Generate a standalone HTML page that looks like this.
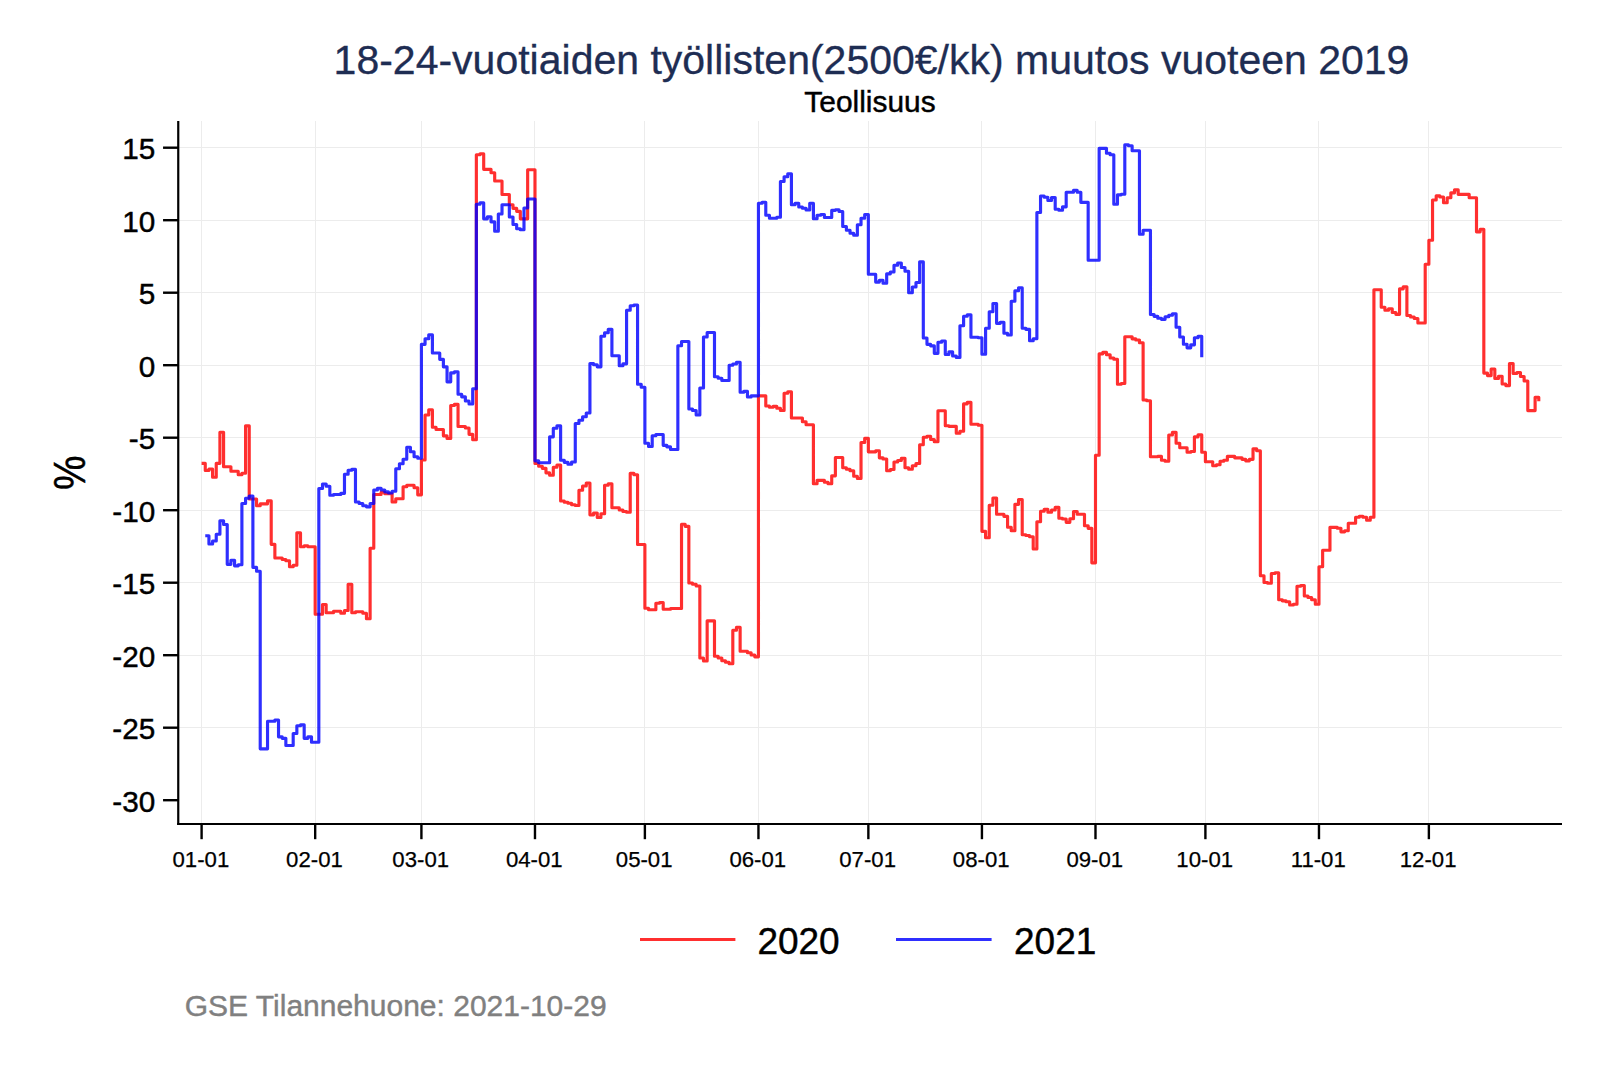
<!DOCTYPE html>
<html lang="fi"><head><meta charset="utf-8"><title>18-24-vuotiaiden työllisten muutos</title>
<style>html,body{margin:0;padding:0;background:#fff}body{width:1600px;height:1067px;overflow:hidden}</style></head>
<body>
<svg width="1600" height="1067" viewBox="0 0 1600 1067" style="display:block;font-family:'Liberation Sans',sans-serif">
<rect width="1600" height="1067" fill="#ffffff"/>
<g stroke="#ececec" stroke-width="1" fill="none"><line x1="201.5" y1="121.0" x2="201.5" y2="824.0"/><line x1="315.5" y1="121.0" x2="315.5" y2="824.0"/><line x1="421.5" y1="121.0" x2="421.5" y2="824.0"/><line x1="534.5" y1="121.0" x2="534.5" y2="824.0"/><line x1="644.5" y1="121.0" x2="644.5" y2="824.0"/><line x1="758.5" y1="121.0" x2="758.5" y2="824.0"/><line x1="868.5" y1="121.0" x2="868.5" y2="824.0"/><line x1="981.5" y1="121.0" x2="981.5" y2="824.0"/><line x1="1095.5" y1="121.0" x2="1095.5" y2="824.0"/><line x1="1205.5" y1="121.0" x2="1205.5" y2="824.0"/><line x1="1318.5" y1="121.0" x2="1318.5" y2="824.0"/><line x1="1428.5" y1="121.0" x2="1428.5" y2="824.0"/><line x1="178.2" y1="147.5" x2="1562.0" y2="147.5"/><line x1="178.2" y1="220.5" x2="1562.0" y2="220.5"/><line x1="178.2" y1="292.5" x2="1562.0" y2="292.5"/><line x1="178.2" y1="365.5" x2="1562.0" y2="365.5"/><line x1="178.2" y1="437.5" x2="1562.0" y2="437.5"/><line x1="178.2" y1="510.5" x2="1562.0" y2="510.5"/><line x1="178.2" y1="582.5" x2="1562.0" y2="582.5"/><line x1="178.2" y1="655.5" x2="1562.0" y2="655.5"/><line x1="178.2" y1="727.5" x2="1562.0" y2="727.5"/></g>
<path d="M201.60,463.30H205.26 V470.50H208.93 V469.00H212.59 V477.25H216.25 V463.30H219.92 V432.25H223.58 V466.75H230.91 V471.25H238.23 V474.70H241.90 V473.20H245.56 V425.80H249.23 V499.00H256.55 V505.75H260.22 V503.80H267.54 V500.80H271.21 V544.30H274.87 V558.00H282.20 V559.50H285.86 V560.70H289.52 V566.70H293.19 V565.20H296.85 V532.75H300.51 V546.75H304.18 V545.70H307.84 V546.75H315.17 V614.25H322.50 V604.50H326.16 V612.75H333.49 V611.25H340.81 V613.20H344.48 V610.50H348.14 V584.25H351.80 V612.75H355.47 V611.70H362.79 V613.20H366.46 V618.75H370.12 V548.25H373.78 V494.50H381.11 V492.25H384.77 V493.75H392.10 V502.00H395.77 V498.70H403.09 V486.70H406.76 V485.20H414.08 V487.75H417.75 V494.80H421.41 V460.00H425.07 V415.00H428.74 V409.70H432.40 V427.25H436.06 V429.50H443.39 V435.80H447.05 V438.50H450.72 V405.50H454.38 V404.30H458.04 V426.50H465.37 V428.00H469.04 V434.30H472.70 V439.70H476.36 V154.75H480.03 V153.70H483.69 V169.30H491.02 V172.75H494.68 V181.00H502.01 V194.50H509.33 V204.70H513.00 V208.30H516.66 V211.30H520.32 V218.80H527.65 V169.75H534.98 V463.50H538.64 V466.20H542.31 V468.30H545.97 V472.80H549.63 V475.20H553.30 V467.25H556.96 V465.00H560.62 V501.00H564.29 V502.20H567.95 V503.25H571.61 V504.75H575.28 V505.50H578.94 V490.20H582.60 V486.00H586.27 V483.00H589.93 V514.80H593.59 V513.00H597.26 V517.50H600.92 V513.75H604.59 V485.25H608.25 V483.75H611.91 V507.75H619.24 V510.00H622.90 V511.50H626.57 V512.25H630.23 V473.25H633.89 V474.75H637.56 V544.50H644.88 V608.20H648.55 V609.70H655.87 V603.25H659.54 V602.50H663.20 V609.25H670.53 V608.50H681.52 V524.20H685.18 V526.30H688.85 V583.00H692.51 V584.20H696.17 V586.00H699.84 V658.00H703.50 V661.00H707.16 V620.80H714.49 V656.20H718.15 V658.00H721.82 V660.70H725.48 V662.20H729.14 V663.70H732.81 V630.25H736.47 V627.25H740.13 V651.25H747.46 V652.75H751.12 V655.00H754.79 V656.80H758.45 V395.80H765.78 V406.00H769.44 V407.20H773.11 V406.30H776.77 V408.25H780.43 V410.50H784.10 V393.25H787.76 V391.75H791.42 V418.00H802.41 V421.75H806.08 V424.75H813.40 V483.75H817.07 V480.30H824.39 V482.25H828.06 V483.75H831.72 V475.80H835.39 V457.50H842.71 V467.70H846.38 V469.20H850.04 V470.70H853.70 V476.25H857.37 V478.50H861.03 V442.50H864.69 V438.30H868.36 V451.80H875.68 V450.75H879.35 V457.80H883.01 V459.00H886.67 V470.70H890.34 V469.50H894.00 V462.00H897.66 V460.50H901.33 V458.25H904.99 V467.70H908.66 V469.20H912.32 V465.75H915.98 V463.50H919.65 V444.75H923.31 V437.25H926.97 V436.20H930.64 V439.50H934.30 V441.75H937.96 V410.70H945.29 V425.70H948.95 V426.30H956.28 V433.20H959.94 V431.25H963.61 V403.80H967.27 V402.30H970.94 V424.20H978.26 V425.25H981.93 V531.30H985.59 V537.75H989.25 V505.20H992.92 V498.00H996.58 V514.20H1003.91 V516.30H1007.57 V527.25H1011.23 V530.70H1014.90 V504.30H1018.56 V499.50H1022.22 V534.75H1025.89 V535.50H1029.55 V536.70H1033.21 V549.00H1036.88 V521.70H1040.54 V511.20H1044.20 V509.25H1047.87 V512.25H1051.53 V510.00H1055.20 V507.30H1058.86 V518.25H1062.52 V519.00H1066.19 V522.30H1069.85 V518.70H1073.51 V511.50H1077.18 V514.20H1084.50 V525.75H1088.17 V528.30H1091.83 V562.80H1095.49 V455.25H1099.16 V353.80H1102.82 V352.30H1106.48 V354.70H1110.15 V358.00H1113.81 V359.20H1117.47 V384.25H1121.14 V383.50H1124.80 V336.70H1132.13 V338.80H1135.79 V340.00H1139.46 V342.70H1143.12 V400.00H1146.78 V400.75H1150.45 V456.75H1157.77 V456.30H1161.44 V460.20H1165.10 V461.25H1168.76 V435.00H1172.43 V432.30H1176.09 V443.25H1179.75 V447.75H1187.08 V452.25H1190.74 V451.50H1194.41 V436.80H1198.07 V434.70H1201.74 V452.25H1205.40 V461.70H1212.73 V465.75H1216.39 V464.70H1220.05 V461.25H1223.72 V460.20H1227.38 V456.30H1234.71 V457.80H1242.03 V459.30H1245.70 V460.80H1249.36 V459.30H1253.02 V448.80H1256.69 V450.75H1260.35 V575.75H1264.01 V582.50H1267.68 V583.25H1271.34 V573.50H1275.01 V572.75H1278.67 V599.75H1282.33 V600.80H1286.00 V601.70H1289.66 V605.00H1293.32 V604.25H1296.99 V586.25H1300.65 V585.50H1304.31 V596.00H1307.98 V597.50H1311.64 V599.75H1315.30 V604.25H1318.97 V566.75H1322.63 V550.25H1329.96 V527.30H1337.28 V528.20H1340.95 V531.80H1344.61 V530.75H1348.28 V523.25H1355.60 V517.25H1359.27 V516.20H1362.93 V517.25H1366.59 V520.25H1370.26 V517.25H1373.92 V289.70H1381.25 V307.25H1384.91 V310.25H1388.57 V308.75H1392.24 V312.50H1395.90 V314.30H1399.56 V288.80H1403.23 V286.70H1406.89 V315.50H1410.55 V317.00H1414.22 V318.50H1417.88 V323.00H1425.21 V264.20H1428.87 V240.20H1432.54 V200.00H1436.20 V195.80H1439.86 V197.00H1443.53 V202.70H1447.19 V197.75H1450.85 V192.80H1454.52 V189.80H1458.18 V194.30H1469.17 V197.75H1476.50 V231.80H1480.16 V229.25H1483.82 V373.12H1487.49 V375.62H1491.15 V369.00H1494.82 V378.50H1498.48 V376.25H1502.14 V384.00H1505.81 V385.62H1509.47 V363.50H1513.13 V373.50H1516.80 V372.50H1520.46 V376.50H1524.12 V381.00H1527.79 V410.62H1535.11 V397.25H1538.78 V401.25" fill="none" stroke="#ff0000" stroke-opacity="0.815" stroke-width="3.15" stroke-linejoin="round" stroke-linecap="butt"/>
<path d="M205.26,535.75H208.93 V544.00H212.59 V541.00H216.25 V534.25H219.92 V520.75H223.58 V524.50H227.24 V564.30H230.91 V560.25H234.57 V565.80H238.23 V564.75H241.90 V503.50H245.56 V498.25H249.23 V496.00H252.89 V567.30H256.55 V571.20H260.22 V748.80H267.54 V721.20H274.87 V720.00H278.53 V736.80H282.20 V738.30H285.86 V745.50H293.19 V733.50H296.85 V725.70H300.51 V724.80H304.18 V738.30H307.84 V736.80H311.50 V742.20H318.83 V488.50H322.50 V484.00H326.16 V486.25H329.82 V495.25H333.49 V494.50H340.81 V493.30H344.48 V474.25H348.14 V470.20H351.80 V469.30H355.47 V502.00H359.13 V503.50H362.79 V505.75H366.46 V506.80H370.12 V503.50H373.78 V490.00H377.45 V488.20H381.11 V490.00H384.77 V491.80H388.44 V493.00H392.10 V491.20H395.77 V468.70H399.43 V463.75H403.09 V459.25H406.76 V447.25H410.42 V451.75H414.08 V456.70H417.75 V458.20H421.41 V344.30H425.07 V338.75H428.74 V334.70H432.40 V353.00H439.73 V359.30H443.39 V366.80H447.05 V381.80H450.72 V372.80H454.38 V371.75H458.04 V394.25H461.71 V396.80H465.37 V401.00H469.04 V404.00H472.70 V388.70H476.36 V204.25H480.03 V202.75H483.69 V218.80H487.35 V216.70H491.02 V221.80H494.68 V231.25H498.34 V214.00H502.01 V204.70H509.33 V217.00H513.00 V224.50H516.66 V228.70H520.32 V229.75H523.99 V208.00H527.65 V199.00H534.98 V460.80H538.64 V462.75H549.63 V436.80H553.30 V428.25H556.96 V425.70H560.62 V460.20H564.29 V462.30H567.95 V464.25H571.61 V462.00H575.28 V423.50H578.94 V420.20H582.60 V416.75H586.27 V413.00H589.93 V363.50H593.59 V364.70H597.26 V366.80H600.92 V336.20H604.59 V332.75H608.25 V329.30H611.91 V355.70H619.24 V365.75H622.90 V363.80H626.57 V310.25H630.23 V305.75H633.89 V305.00H637.56 V384.20H641.22 V387.20H644.88 V443.20H648.55 V446.50H652.21 V435.70H655.87 V434.50H663.20 V445.30H666.86 V446.80H670.53 V449.50H677.86 V345.70H681.52 V341.50H688.85 V409.00H692.51 V410.50H696.17 V415.00H699.84 V388.00H703.50 V337.00H707.16 V332.50H714.49 V376.75H718.15 V378.25H721.82 V380.50H729.14 V365.20H732.81 V364.00H736.47 V362.20H740.13 V392.20H743.80 V391.30H747.46 V397.00H751.12 V395.80H758.45 V203.25H762.12 V202.20H765.78 V215.25H769.44 V218.25H776.77 V217.20H780.43 V181.50H784.10 V176.70H787.76 V173.70H791.42 V204.75H795.09 V203.25H798.75 V207.00H802.41 V208.20H806.08 V210.00H809.74 V203.25H813.40 V218.70H817.07 V215.25H820.73 V214.50H824.39 V217.50H831.72 V210.30H835.39 V209.70H839.05 V211.50H842.71 V226.50H846.38 V230.25H850.04 V233.25H853.70 V235.20H857.37 V224.70H861.03 V218.25H864.69 V214.50H868.36 V274.25H875.68 V282.05H879.35 V280.25H883.01 V283.25H886.67 V273.80H890.34 V272.00H894.00 V265.25H897.66 V263.00H901.33 V267.50H904.99 V271.25H908.66 V292.70H912.32 V287.00H915.98 V282.50H919.65 V261.80H923.31 V338.00H926.97 V344.30H930.64 V345.80H934.30 V353.30H937.96 V342.20H941.63 V341.00H945.29 V354.50H948.95 V351.80H952.62 V356.00H956.28 V357.50H959.94 V325.70H963.61 V316.25H967.27 V314.75H970.94 V337.25H978.26 V337.70H981.93 V354.20H985.59 V328.25H989.25 V311.75H992.92 V303.50H996.58 V323.30H1000.24 V322.25H1003.91 V333.20H1007.57 V335.00H1011.23 V301.25H1014.90 V290.75H1018.56 V287.75H1022.22 V328.25H1025.89 V329.30H1029.55 V340.70H1033.21 V338.75H1036.88 V212.50H1040.54 V196.00H1044.20 V197.20H1047.87 V200.50H1051.53 V197.50H1055.20 V209.20H1058.86 V210.25H1062.52 V206.80H1066.19 V192.25H1073.51 V190.30H1077.18 V192.25H1080.84 V202.30H1088.17 V260.20H1099.16 V148.30H1106.48 V153.25H1110.15 V154.75H1113.81 V204.25H1117.47 V194.80H1121.14 V194.20H1124.80 V144.70H1128.47 V145.75H1132.13 V150.70H1139.46 V234.25H1143.12 V230.20H1150.45 V314.50H1154.11 V316.30H1157.77 V318.25H1161.44 V319.30H1165.10 V316.75H1168.76 V315.25H1172.43 V313.75H1176.09 V327.25H1179.75 V337.00H1183.42 V344.20H1187.08 V347.80H1190.74 V344.80H1194.41 V337.75H1198.07 V336.25H1201.74 V357.25" fill="none" stroke="#0000ff" stroke-opacity="0.815" stroke-width="3.15" stroke-linejoin="round" stroke-linecap="butt"/>
<g stroke="#000" stroke-width="2.4" fill="none"><line x1="201.60" y1="824.00" x2="201.60" y2="839.20"/><line x1="315.17" y1="824.00" x2="315.17" y2="839.20"/><line x1="421.41" y1="824.00" x2="421.41" y2="839.20"/><line x1="534.98" y1="824.00" x2="534.98" y2="839.20"/><line x1="644.88" y1="824.00" x2="644.88" y2="839.20"/><line x1="758.45" y1="824.00" x2="758.45" y2="839.20"/><line x1="868.36" y1="824.00" x2="868.36" y2="839.20"/><line x1="981.93" y1="824.00" x2="981.93" y2="839.20"/><line x1="1095.49" y1="824.00" x2="1095.49" y2="839.20"/><line x1="1205.40" y1="824.00" x2="1205.40" y2="839.20"/><line x1="1318.97" y1="824.00" x2="1318.97" y2="839.20"/><line x1="1428.87" y1="824.00" x2="1428.87" y2="839.20"/><line x1="163.05" y1="147.70" x2="178.25" y2="147.70"/><line x1="163.05" y1="220.20" x2="178.25" y2="220.20"/><line x1="163.05" y1="292.70" x2="178.25" y2="292.70"/><line x1="163.05" y1="365.20" x2="178.25" y2="365.20"/><line x1="163.05" y1="437.70" x2="178.25" y2="437.70"/><line x1="163.05" y1="510.20" x2="178.25" y2="510.20"/><line x1="163.05" y1="582.70" x2="178.25" y2="582.70"/><line x1="163.05" y1="655.20" x2="178.25" y2="655.20"/><line x1="163.05" y1="727.70" x2="178.25" y2="727.70"/><line x1="163.05" y1="800.20" x2="178.25" y2="800.20"/></g>
<g stroke="#000" stroke-width="2.2" fill="none"><line x1="178.25" y1="121.0" x2="178.25" y2="825.10"/><line x1="177.15" y1="824.00" x2="1562.0" y2="824.00"/></g>
<g fill="#000" stroke="#000" stroke-width="0.45"><text x="200.90" y="866.5" text-anchor="middle" font-size="22.2" stroke-width="0.25">01-01</text><text x="314.47" y="866.5" text-anchor="middle" font-size="22.2" stroke-width="0.25">02-01</text><text x="420.71" y="866.5" text-anchor="middle" font-size="22.2" stroke-width="0.25">03-01</text><text x="534.28" y="866.5" text-anchor="middle" font-size="22.2" stroke-width="0.25">04-01</text><text x="644.18" y="866.5" text-anchor="middle" font-size="22.2" stroke-width="0.25">05-01</text><text x="757.75" y="866.5" text-anchor="middle" font-size="22.2" stroke-width="0.25">06-01</text><text x="867.66" y="866.5" text-anchor="middle" font-size="22.2" stroke-width="0.25">07-01</text><text x="981.23" y="866.5" text-anchor="middle" font-size="22.2" stroke-width="0.25">08-01</text><text x="1094.79" y="866.5" text-anchor="middle" font-size="22.2" stroke-width="0.25">09-01</text><text x="1204.70" y="866.5" text-anchor="middle" font-size="22.2" stroke-width="0.25">10-01</text><text x="1318.27" y="866.5" text-anchor="middle" font-size="22.2" stroke-width="0.25">11-01</text><text x="1428.17" y="866.5" text-anchor="middle" font-size="22.2" stroke-width="0.25">12-01</text><text x="155.2" y="159.10" text-anchor="end" font-size="29.7">15</text><text x="155.2" y="231.60" text-anchor="end" font-size="29.7">10</text><text x="155.2" y="304.10" text-anchor="end" font-size="29.7">5</text><text x="155.2" y="376.60" text-anchor="end" font-size="29.7">0</text><text x="155.2" y="449.10" text-anchor="end" font-size="29.7">-5</text><text x="155.2" y="521.60" text-anchor="end" font-size="29.7">-10</text><text x="155.2" y="594.10" text-anchor="end" font-size="29.7">-15</text><text x="155.2" y="666.60" text-anchor="end" font-size="29.7">-20</text><text x="155.2" y="739.10" text-anchor="end" font-size="29.7">-25</text><text x="155.2" y="811.60" text-anchor="end" font-size="29.7">-30</text></g>
<text transform="translate(85.0,472.7) rotate(-90) scale(0.947,1.088)" text-anchor="middle" font-size="41.0" fill="#000" stroke="#000" stroke-width="0.45">%</text>
<text x="871.5" y="73.7" text-anchor="middle" font-size="41.00" fill="#1e2d53" stroke="#1e2d53" stroke-width="0.3">18-24-vuotiaiden työllisten(2500€/kk) muutos vuoteen 2019</text>
<text x="870.0" y="111.6" text-anchor="middle" font-size="29.90" fill="#000" stroke="#000" stroke-width="0.45">Teollisuus</text>
<line x1="640" y1="939.4" x2="735.4" y2="939.4" stroke="#ff0000" stroke-opacity="0.815" stroke-width="3"/>
<text x="757.4" y="954.0" font-size="37.0" fill="#000" stroke="#000" stroke-width="0.45">2020</text>
<line x1="896" y1="939.4" x2="991.6" y2="939.4" stroke="#0000ff" stroke-opacity="0.815" stroke-width="3"/>
<text x="1014.0" y="954.0" font-size="37.0" fill="#000" stroke="#000" stroke-width="0.45">2021</text>
<text x="184.7" y="1016.2" font-size="30.00" fill="#808080" stroke="#808080" stroke-width="0.4">GSE Tilannehuone: 2021-10-29</text>
</svg>
</body></html>
